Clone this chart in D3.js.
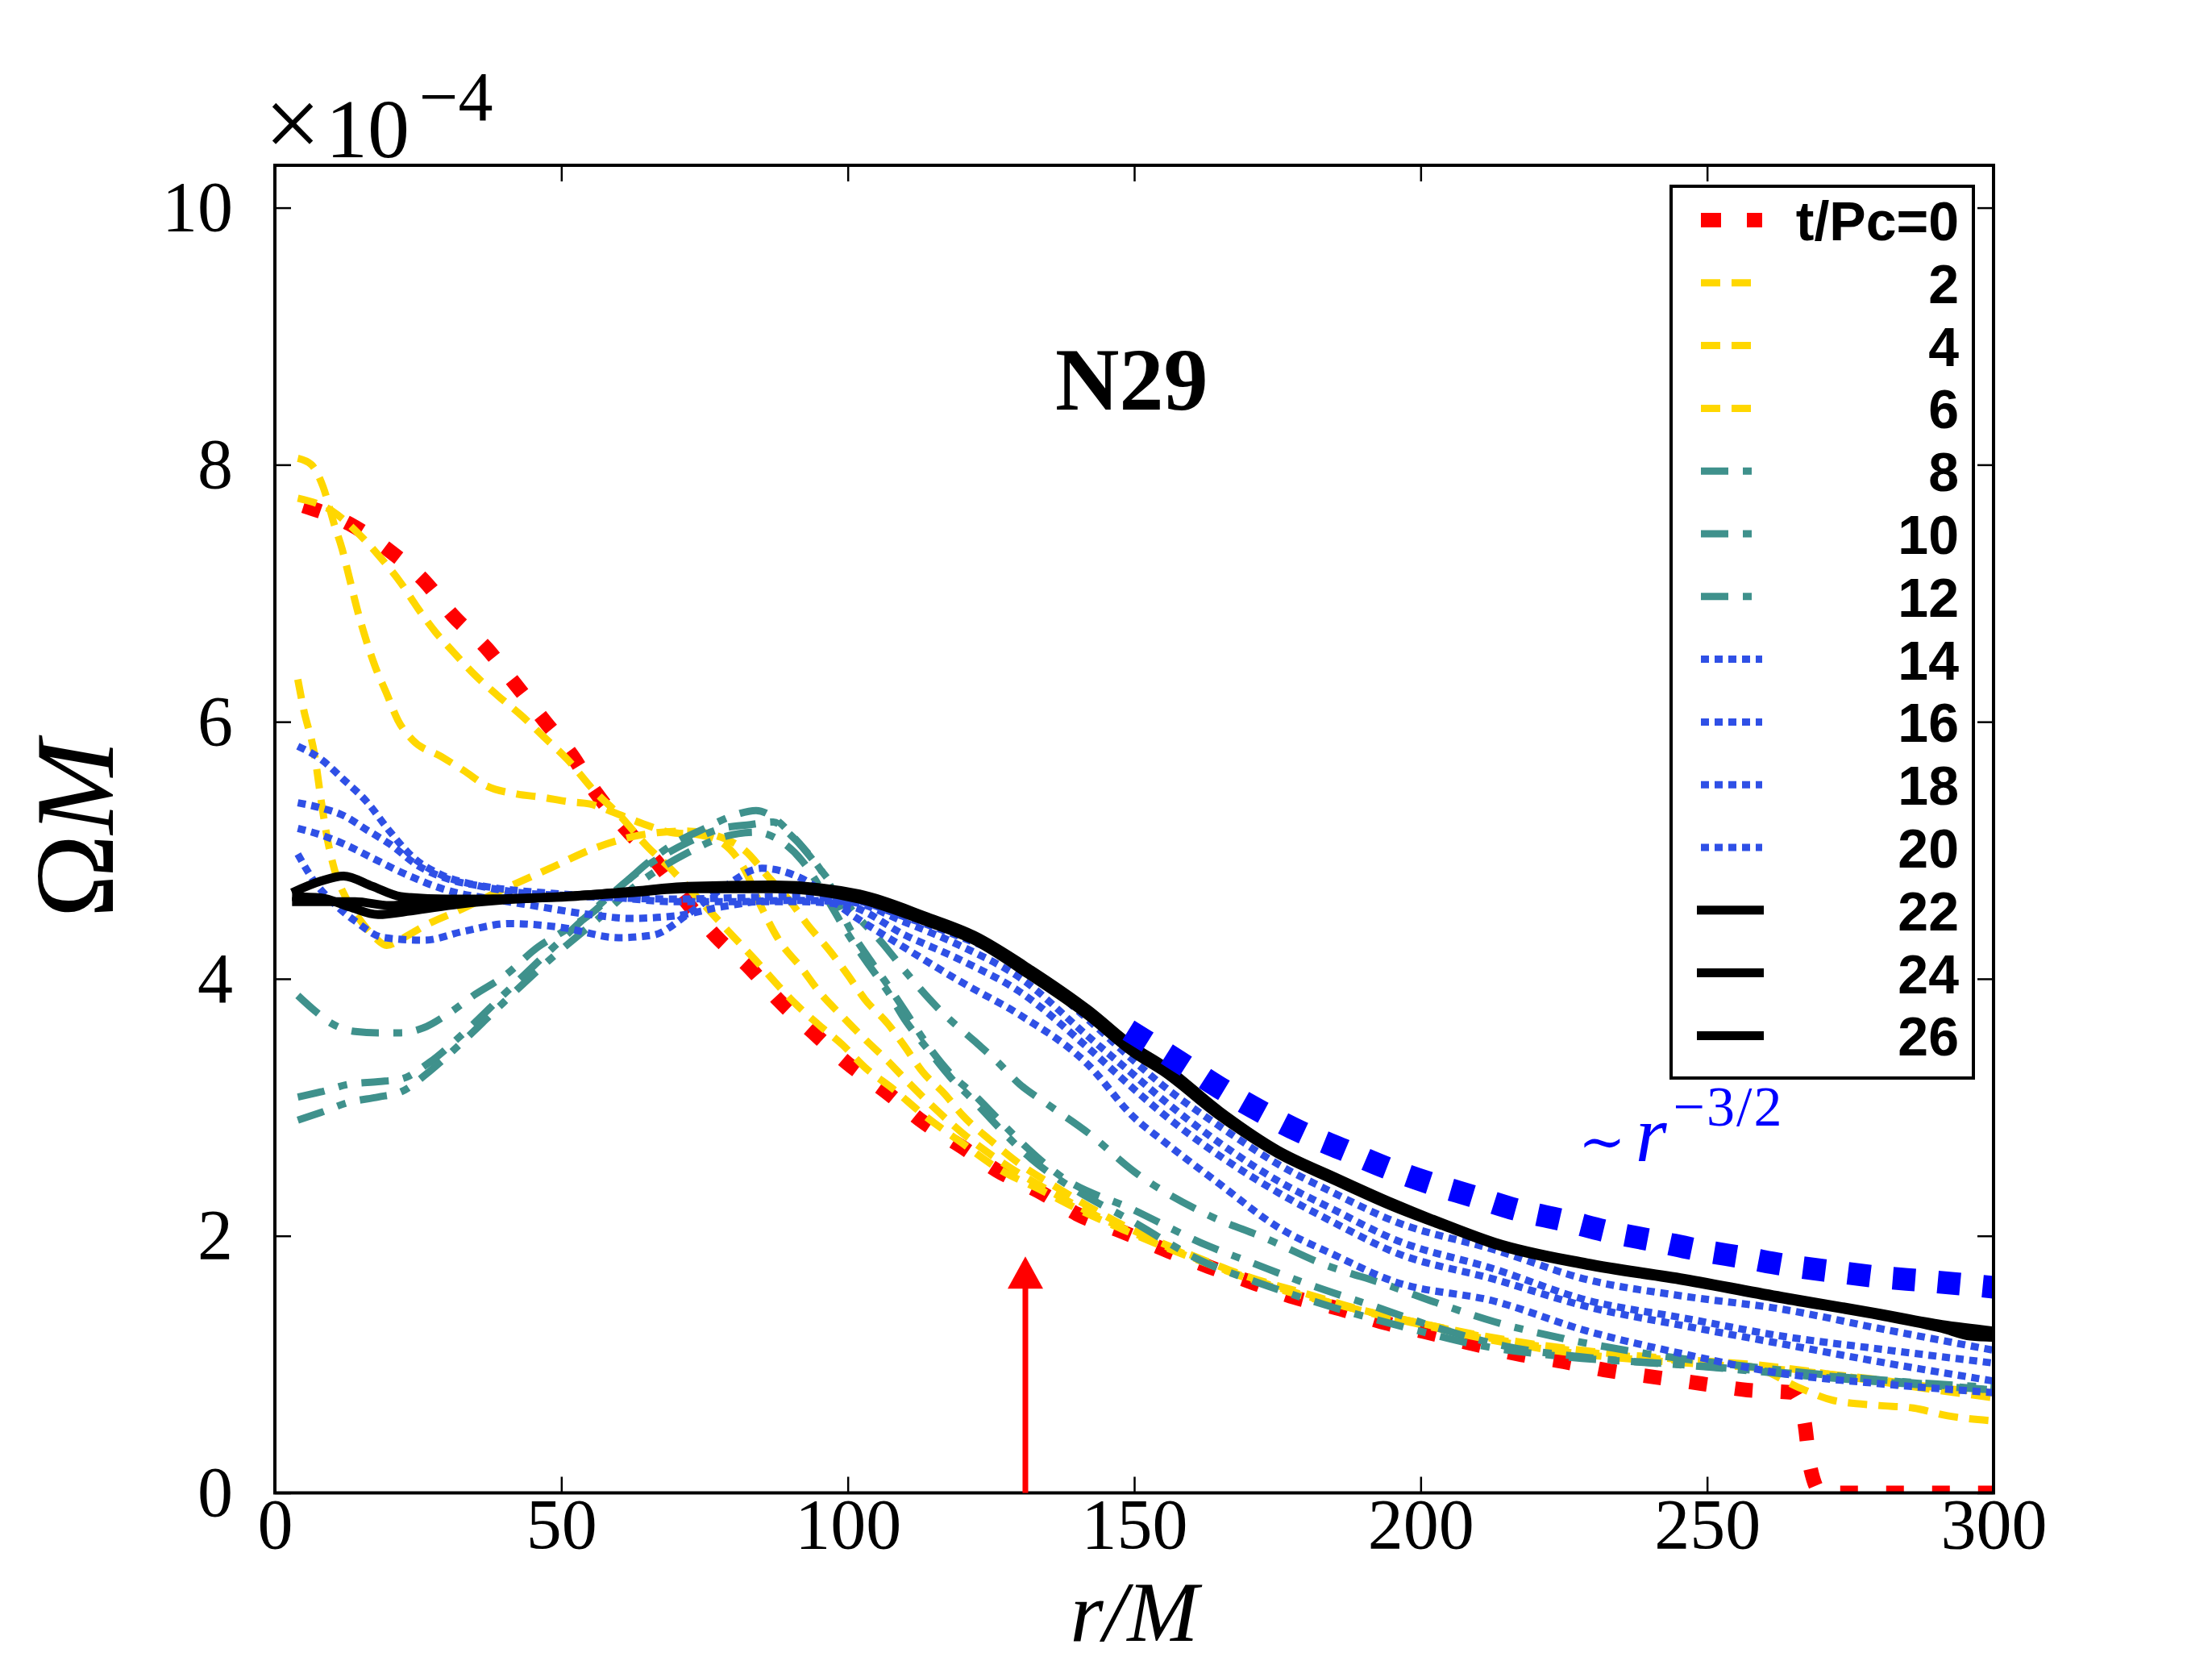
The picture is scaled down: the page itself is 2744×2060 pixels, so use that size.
<!doctype html>
<html lang='en'>
<head>
    <meta charset='UTF-8'>
    <title>N29</title>
    <style>
        body { margin: 0; background: #fff; }
        svg { display: block; }
    </style>
</head>
<body>

<script src='https://d3js.org/d3.v7.min.js'></script>
<script>
  /********************  data  ******************/

  const xTicks = [0, 50, 100, 150, 200, 250, 300]
  const yTicks = [0, 2, 4, 6, 8, 10]
  const legendLabels = ['t/Pc=0', '2', '4', '6', '8', '10', '12', '14', '16', '18', '20', '22', '24', '26']

  // [r/M, Omega*M in units of 1e-4]
  const t0 = [[5,7.68],[13,7.54],[20,7.33],[26,7.1],[31,6.83],[37,6.57],[42,6.29],[47,6.01],[52,5.73],[56,5.45],[61,5.18],[67,4.89],[72,4.59],[77,4.33],[83,4.08],[88,3.83],[94,3.58],[100,3.34],[107,3.11],[113,2.89],[120,2.69],[126,2.51],[134,2.33],[140,2.17],[148,2.03],[156,1.88],[163,1.76],[171,1.63],[178,1.52],[186,1.43],[194,1.32],[201,1.25],[209,1.16],[217,1.08],[225,1.02],[233,0.95],[241,0.9],[249,0.85],[257,0.8],[265,0.78],[267,0.55],[268,0.2],[270,0],[300,0]]
  const t2 = [[4,7.74],[10,7.64],[14,7.49],[18,7.3],[22,7.08],[25,6.88],[28,6.7],[31,6.55],[35,6.36],[39,6.2],[43,6.05],[47,5.88],[51,5.71],[56,5.45],[60,5.28],[65,5.03],[69,4.86],[74,4.62],[80,4.33],[84,4.14],[88,3.94],[91,3.8],[95,3.64],[99,3.49],[103,3.31],[108,3.14],[113,2.95],[120,2.72],[126,2.53],[134,2.35],[141,2.19],[148,2.05],[156,1.9],[163,1.78],[171,1.65],[178,1.55],[186,1.46],[194,1.37],[201,1.3],[210,1.21],[220,1.13],[230,1.07],[240,1.03],[250,1.0],[260,0.97],[270,0.93],[280,0.88],[290,0.82],[300,0.78]]
  const t4 = [[4,8.05],[6.4,8.0],[8.4,7.83],[10.4,7.53],[11.7,7.35],[13,7.12],[14.4,6.87],[15.9,6.64],[17.5,6.43],[19.5,6.22],[21.5,6.01],[24,5.86],[29,5.73],[33,5.62],[37,5.5],[42,5.44],[47,5.41],[51,5.38],[55,5.36],[60,5.28],[64,5.21],[69,5.14],[74,5.12],[78,5.06],[82,4.85],[85,4.55],[88,4.3],[92,4.08],[95,3.9],[99,3.71],[103,3.53],[107,3.36],[110,3.22],[115,3.0],[120,2.8],[127,2.57],[134,2.38],[141,2.21],[148,2.06],[156,1.91],[165,1.75],[175,1.6],[186,1.46],[200,1.32],[215,1.18],[230,1.09],[245,1.03],[258,0.98],[266,0.82],[272,0.72],[280,0.68],[286,0.66],[292,0.6],[300,0.56]]
  const t6 = [[4,6.33],[5,6.1],[6.9,5.75],[8.2,5.35],[9.2,5.08],[10.4,4.85],[12.4,4.63],[15,4.45],[17.5,4.32],[19.5,4.26],[22.5,4.32],[26,4.41],[32,4.53],[40,4.7],[48,4.86],[56,5.02],[64,5.12],[72,5.15],[78,5.1],[82,5.0],[86,4.8],[90,4.6],[93,4.42],[97,4.21],[100,4.03],[103,3.84],[107,3.65],[110,3.47],[113,3.28],[117,3.1],[120,2.94],[125,2.74],[130,2.56],[136,2.39],[142,2.23],[150,2.04],[160,1.85],[170,1.68],[180,1.55],[190,1.42],[200,1.32],[215,1.19],[230,1.1],[245,1.04],[260,0.99],[275,0.9],[290,0.8],[300,0.74]]
  const t8 = [[4,3.87],[7,3.75],[10,3.65],[14,3.59],[18,3.58],[22,3.58],[26,3.62],[30,3.72],[35,3.88],[40,4.02],[46,4.25],[50,4.36],[55,4.5],[60,4.7],[65,4.9],[70,5.06],[75,5.17],[80,5.27],[84,5.31],[88,5.22],[91,5.08],[94,4.92],[97,4.75],[101,4.52],[106,4.28],[110,4.06],[116,3.76],[122,3.52],[126,3.36],[130,3.18],[135,3.02],[142,2.8],[150,2.5],[163,2.16],[173,1.98],[183,1.78],[194,1.62],[204,1.46],[213,1.33],[225,1.2],[240,1.08],[260,0.97],[280,0.88],[300,0.82]]
  const t10 = [[4,3.08],[8,3.12],[13,3.18],[18,3.2],[22,3.22],[27,3.35],[33,3.58],[40,3.88],[48,4.22],[56,4.55],[64,4.85],[72,5.06],[78,5.17],[83,5.2],[87,5.22],[90,5.12],[93,4.98],[97,4.72],[100,4.42],[104,4.14],[107,3.95],[110,3.75],[114,3.48],[118,3.26],[122,3.1],[126,2.92],[130,2.74],[137,2.47],[150,2.2],[163,1.92],[170,1.8],[180,1.63],[192,1.45],[204,1.27],[215,1.14],[230,1.05],[250,0.98],[270,0.9],[300,0.8]]
  const t12 = [[4,2.9],[8,2.96],[13,3.04],[18,3.08],[22,3.12],[27,3.28],[33,3.52],[40,3.82],[48,4.15],[56,4.45],[64,4.76],[72,4.98],[78,5.1],[84,5.14],[88,5.08],[92,4.92],[96,4.65],[100,4.35],[103,4.15],[107,3.9],[110,3.68],[114,3.45],[118,3.23],[122,3.05],[126,2.86],[132,2.6],[140,2.35],[149,2.13],[162,1.8],[172,1.63],[185,1.44],[198,1.28],[210,1.15],[225,1.06],[245,1.0],[265,0.93],[285,0.86],[300,0.8]]
  const t14 = [[4,5.81],[8,5.71],[12,5.55],[16,5.38],[20,5.15],[24,4.95],[29,4.81],[35,4.73],[43,4.67],[50,4.65],[60,4.63],[70,4.62],[80,4.63],[90,4.64],[100,4.62],[110,4.48],[120,4.32],[130,4.12],[142,3.68],[150,3.36],[155,3.17],[165,2.85],[175,2.56],[185,2.33],[195,2.12],[213,1.89],[229,1.66],[246,1.53],[263,1.43],[280,1.28],[300,1.11]]
  const t16 = [[4,5.37],[8,5.33],[12,5.27],[16,5.16],[20,5.05],[25,4.88],[30,4.78],[38,4.71],[50,4.66],[60,4.63],[70,4.6],[80,4.6],[90,4.61],[100,4.6],[110,4.44],[120,4.25],[130,4.01],[142,3.55],[150,3.25],[155,3.06],[165,2.72],[175,2.43],[185,2.2],[195,1.98],[213,1.74],[229,1.5],[246,1.36],[263,1.22],[280,1.12],[300,1.01]]
  const t18 = [[4,5.17],[8,5.12],[12,5.05],[17,4.94],[23,4.81],[30,4.69],[38,4.62],[45,4.57],[55,4.5],[62,4.47],[70,4.49],[78,4.56],[85,4.6],[92,4.6],[100,4.57],[110,4.34],[120,4.14],[130,3.9],[142,3.46],[150,3.14],[155,2.95],[165,2.62],[175,2.34],[185,2.1],[195,1.88],[213,1.66],[229,1.45],[246,1.3],[263,1.16],[280,1.02],[300,0.87]]
  const t20 = [[4,4.97],[7,4.75],[10,4.6],[14,4.45],[19,4.32],[26,4.3],[33,4.37],[41,4.43],[50,4.4],[60,4.32],[66,4.34],[72,4.5],[78,4.7],[85,4.86],[92,4.78],[100,4.52],[110,4.24],[120,3.97],[130,3.72],[142,3.33],[150,2.92],[155,2.74],[165,2.4],[175,2.07],[185,1.85],[195,1.65],[213,1.49],[229,1.26],[246,1.08],[263,0.93],[280,0.85],[300,0.78]]
  const t22 = [[3,4.67],[8,4.76],[12,4.8],[17,4.72],[22,4.64],[30,4.62],[40,4.62],[50,4.64],[60,4.67],[72,4.71],[87,4.72],[102,4.64],[114,4.46],[122,4.32],[132,4.05],[142,3.74],[150,3.45],[155,3.31],[165,2.95],[175,2.66],[185,2.45],[195,2.25],[205,2.07],[213,1.94],[229,1.78],[246,1.66],[263,1.52],[280,1.39],[291,1.3],[300,1.25]]
  const t24 = [[3,4.64],[8,4.63],[13,4.56],[18,4.5],[24,4.53],[32,4.58],[42,4.62],[52,4.64],[62,4.67],[72,4.7],[87,4.7],[102,4.62],[114,4.44],[122,4.3],[132,4.02],[142,3.71],[150,3.42],[155,3.28],[165,2.93],[175,2.64],[185,2.43],[195,2.23],[205,2.06],[213,1.93],[229,1.77],[246,1.65],[263,1.51],[280,1.38],[291,1.28],[296,1.22],[300,1.21]]
  const t26 = [[3,4.6],[8,4.6],[14,4.6],[20,4.57],[28,4.6],[38,4.62],[50,4.64],[62,4.68],[72,4.72],[87,4.73],[102,4.66],[114,4.48],[122,4.34],[132,4.07],[142,3.76],[150,3.47],[155,3.33],[165,2.97],[175,2.67],[185,2.46],[195,2.26],[205,2.08],[213,1.95],[229,1.79],[246,1.67],[263,1.53],[280,1.4],[291,1.31],[300,1.26]]

  // the ~ r^-3/2 guide line
  const guide = [[149,3.6],[158,3.35],[165,3.15],[172,2.97],[179,2.81],[186.5,2.67],[194,2.53],[201.6,2.41],[209,2.31],[217,2.2],[225,2.12],[233,2.03],[241,1.96],[248.5,1.89],[256.5,1.83],[264,1.77],[272.5,1.72],[280,1.68],[288,1.65],[300,1.6]]

  // red arrow marking r/M ~ 131
  const arrowR = 131
  const arrowTip = 1.84

  const series = [t0, t2, t4, t6, t8, t10, t12, t14, t16, t18, t20, t22, t24, t26]
  const seriesStyle = ['red', 'gold', 'gold', 'gold', 'teal', 'teal', 'teal', 'blue', 'blue', 'blue', 'blue', 'black', 'black', 'black']

  /********************  styles  ******************/

  const styles = {
    red:   { color: '#ff0000', width: 18, dash: '22,35' },
    gold:  { color: '#ffd700', width: 9,  dash: '24,14' },
    teal:  { color: '#3f918c', width: 9,  dash: '34,18,11,18' },
    blue:  { color: '#2f50e6', width: 9,  dash: '10,7' },
    black: { color: '#000000', width: 11, dash: null }
  }
  const serif = "'Liberation Serif', 'Times New Roman', serif"
  const sans = "'Liberation Sans', Arial, sans-serif"

  const w = 2744
  const h = 2060

  const x = d3.scaleLinear().domain([0, 300]).range([341, 2473])
  const y = d3.scaleLinear().domain([0, 10.33]).range([1851.5, 205])

  const svg = d3.select('body')
    .append('svg')
    .attr('width', w)
    .attr('height', h)

  svg.append('rect').attr('width', w).attr('height', h).attr('fill', '#fff')

  svg.append('clipPath')
    .attr('id', 'plot')
    .append('rect')
    .attr('x', x(0))
    .attr('y', y(10.33))
    .attr('width', x(300) - x(0))
    .attr('height', y(0) - y(10.33))

  /********************  curves ******************/

  const line = d3.line()
    .x(d => x(d[0]))
    .y(d => y(d[1]))
    .curve(d3.curveMonotoneX)

  const curves = svg.append('g').attr('clip-path', 'url(#plot)')

  curves.selectAll('path.series')
    .data(series)
    .enter()
    .append('path')
    .attr('class', 'series')
    .attr('d', line)
    .attr('fill', 'none')
    .attr('stroke', (d, i) => styles[seriesStyle[i]].color)
    .attr('stroke-width', (d, i) => styles[seriesStyle[i]].width)
    .attr('stroke-dasharray', (d, i) => styles[seriesStyle[i]].dash)
    .attr('stroke-linecap', 'butt')
    .attr('stroke-linejoin', 'round')

  curves.append('path')
    .attr('d', line(guide))
    .attr('fill', 'none')
    .attr('stroke', '#0000ff')
    .attr('stroke-width', 28)
    .attr('stroke-dasharray', '28,28')

  /********************  axes ******************/

  const styleAxis = g => {
    g.select('.domain').remove()
    g.attr('font-family', serif).attr('font-size', 88)
    g.selectAll('.tick line').attr('stroke', '#000').attr('stroke-width', 2.5)
    g.selectAll('.tick text').attr('fill', '#000')
  }

  svg.append('g')
    .attr('transform', `translate(0,${y(0)})`)
    .call(d3.axisBottom(x).tickValues(xTicks).tickFormat(d3.format('d')).tickSizeInner(-20).tickSizeOuter(0).tickPadding(6))
    .call(styleAxis)

  svg.append('g')
    .attr('transform', `translate(${x(0)},0)`)
    .call(d3.axisLeft(y).tickValues(yTicks).tickFormat(d3.format('d')).tickSizeInner(-20).tickSizeOuter(0).tickPadding(52))
    .call(styleAxis)

  svg.append('g')
    .attr('transform', `translate(0,${y(10.33)})`)
    .call(d3.axisTop(x).tickValues(xTicks).tickFormat('').tickSizeInner(-20).tickSizeOuter(0))
    .call(styleAxis)

  svg.append('g')
    .attr('transform', `translate(${x(300)},0)`)
    .call(d3.axisRight(y).tickValues(yTicks).tickFormat('').tickSizeInner(-20).tickSizeOuter(0))
    .call(styleAxis)

  svg.append('rect')
    .attr('x', x(0))
    .attr('y', y(10.33))
    .attr('width', x(300) - x(0))
    .attr('height', y(0) - y(10.33))
    .attr('fill', 'none')
    .attr('stroke', '#000')
    .attr('stroke-width', 4)

  // axis titles
  svg.append('text')
    .attr('x', (x(0) + x(300)) / 2)
    .attr('y', 2035)
    .attr('text-anchor', 'middle')
    .attr('font-family', serif)
    .attr('font-size', 106)
    .attr('font-style', 'italic')
    .text('r/M')

  const yTitle = svg.append('text')
    .attr('transform', `translate(140,${(y(0) + y(10.33)) / 2}) rotate(-90)`)
    .attr('text-anchor', 'middle')
    .attr('font-family', serif)
    .attr('font-size', 140)
  yTitle.append('tspan').text('Ω')
  yTitle.append('tspan').attr('font-style', 'italic').text('M')

  // offset text
  const offset = svg.append('text')
    .attr('x', 328)
    .attr('y', 195)
    .attr('font-family', serif)
    .attr('font-size', 104)
  offset.append('tspan').attr('font-size', 124).text('×')
  offset.append('tspan').attr('dx', 6).text('10')
  offset.append('tspan').attr('font-size', 86).attr('dy', -46).attr('dx', 12).text('−4')

  /********************  annotations ******************/

  svg.append('text')
    .attr('x', 1309)
    .attr('y', 508)
    .attr('font-family', serif)
    .attr('font-weight', 'bold')
    .attr('font-size', 110)
    .text('N29')

  const slope = svg.append('text')
    .attr('x', 1958)
    .attr('y', 1440)
    .attr('fill', '#0000ff')
    .attr('font-family', serif)
    .attr('font-size', 80)
  slope.append('tspan').attr('font-family', "'DejaVu Serif', serif").attr('font-size', 70).text('∼')
  slope.append('tspan').attr('font-style', 'italic').attr('font-size', 100).attr('dx', 12).text('r')
  slope.append('tspan').attr('font-size', 70).attr('dy', -44).attr('dx', 8).attr('letter-spacing', 2).text('−3/2')

  // arrow
  svg.append('line')
    .attr('x1', x(arrowR))
    .attr('x2', x(arrowR))
    .attr('y1', y(0))
    .attr('y2', y(arrowTip) + 30)
    .attr('stroke', '#ff0000')
    .attr('stroke-width', 7)

  svg.append('path')
    .attr('d', `M${x(arrowR)},${y(arrowTip)} L${x(arrowR) + 22},${y(arrowTip) + 40} L${x(arrowR) - 22},${y(arrowTip) + 40} Z`)
    .attr('fill', '#ff0000')

  /********************  legend ******************/

  const legend = svg.append('g')

  legend.append('rect')
    .attr('x', 2073)
    .attr('y', 231)
    .attr('width', 375)
    .attr('height', 1106)
    .attr('fill', '#fff')
    .attr('stroke', '#000')
    .attr('stroke-width', 4)

  const rowY = i => 273 + i * 77.8

  legend.selectAll('line')
    .data(legendLabels)
    .enter()
    .append('line')
    .attr('x1', (d, i) => seriesStyle[i] === 'black' ? 2105 : 2110)
    .attr('x2', (d, i) => seriesStyle[i] === 'black' ? 2188 : 2186)
    .attr('y1', (d, i) => rowY(i))
    .attr('y2', (d, i) => rowY(i))
    .attr('stroke', (d, i) => styles[seriesStyle[i]].color)
    .attr('stroke-width', (d, i) => seriesStyle[i] === 'red' ? 18 : styles[seriesStyle[i]].width)
    .attr('stroke-dasharray', (d, i) => seriesStyle[i] === 'red' ? '25,32' : styles[seriesStyle[i]].dash)

  legend.selectAll('text')
    .data(legendLabels)
    .enter()
    .append('text')
    .attr('x', 2430)
    .attr('y', (d, i) => rowY(i) + 25)
    .attr('text-anchor', 'end')
    .attr('font-family', sans)
    .attr('font-weight', 'bold')
    .attr('font-size', 68)
    .text(d => d)
</script>
</body>
</html>
